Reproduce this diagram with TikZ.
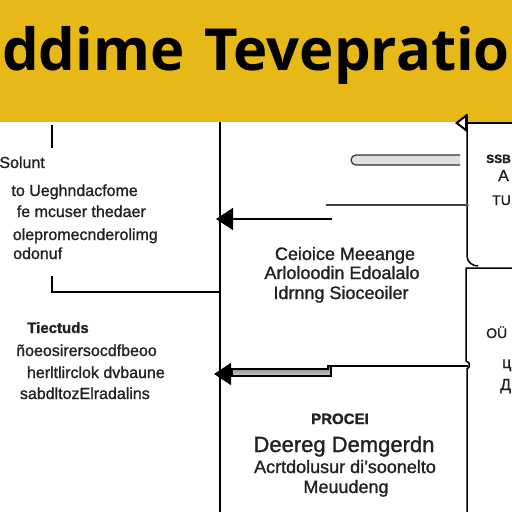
\documentclass[tikz,border=0pt]{standalone}
\usepackage{fontspec}
\setmainfont{Liberation Sans}[FakeBold=1.2]
\newfontfamily\titlefont{Open Sans}
\usetikzlibrary{arrows.meta}
\definecolor{bandyellow}{HTML}{E6B918}
\definecolor{inkgray}{HTML}{222222}
\begin{document}
\begin{tikzpicture}[x=1pt,y=-1pt,
  ln/.style={draw=black,line width=1.5pt},
  thin/.style={draw=black!80,line width=1.2pt},
  bigtip/.style={-{Triangle[length=17pt,width=22pt]}},
  txt/.style={inner sep=0pt,text=inkgray,font=\fontsize{16}{16}\selectfont},
  mtxt/.style={inner sep=0pt,text=inkgray,font=\fontsize{18}{18}\selectfont},
  ttl/.style={inner sep=0pt,text=black,font=\titlefont\bfseries\fontsize{58}{58}\selectfont}]
\useasboundingbox (0,0) rectangle (512,512);
\clip (0,0) rectangle (512,512);
\fill[white] (0,0) rectangle (512,512);
% title band
\fill[bandyellow] (0,0) rectangle (512,122);
\node[ttl,anchor=base west] (t1) at (2,70) {ddime};
\node[ttl,anchor=base west] (t2) at (204,70) {Tevepratio};
% coordinates
\coordinate (vtop) at (220,122);
\coordinate (vbot) at (220,512);
\coordinate (b1a) at (52,125);
\coordinate (b1b) at (52,148);
\coordinate (b2a) at (52,276);
\coordinate (b2b) at (52,292);
\coordinate (b2c) at (220,292);
\coordinate (a1s) at (332,219);
\coordinate (a1e) at (216,219);
\coordinate (l1s) at (326,205);
\coordinate (l1e) at (467,205);
\coordinate (a0s) at (512,123);
\coordinate (a0e) at (455,123);
% main vertical
\draw[ln] (vtop) -- (vbot);
% left brackets
\draw[ln] (b1a) -- (b1b);
\draw[ln] (b2a) -- (b2b) -- (b2c);
% right upper box
\draw[ln] (467,114) -- (467,256) to[out=-90,in=180] (478,266);
\draw[ln] (512,268) -- (466,268) -- (466,361) -- (469,363) -- (469,367) -- (467,369) -- (467,512);
% top right arrow
\draw[line width=2pt,-{Triangle[open,length=12pt,width=18pt,fill=white,line width=2pt]}] (a0s) -- (a0e);
% capsule
\draw[thin,fill=black!12] (460,155) -- (356,155) arc[start angle=-90,end angle=-270,radius=5] -- (460,165);
% thin line
\draw[thin,draw=black!75] (l1s) -- (l1e);
\fill[black!70] (l1e) circle (1.8);
% arrow 1
\draw[ln,bigtip] (a1s) -- (a1e);
% middle horizontal and arrow 2
\coordinate (a2e) at (214,374);
\draw[ln] (328,366) -- (468,366);
\draw[line width=1.2pt,top color=black!50,bottom color=black!20] (232,369) -- (328,369) -- (328,366) -- (331,366) -- (331,376) -- (232,376) -- cycle;
\draw[ln,bigtip] (232,374) -- (a2e);
% left upper text
\node[txt,anchor=base east] (lu1) at (45,168) {Solunt};
\node[txt,anchor=base east] (lu2) at (138,196) {to Ueghndacfome};
\node[txt,anchor=base east] (lu3) at (146,217) {fe mcuser thedaer};
\node[txt,anchor=base east] (lu4) at (158,240) {olepromecnderolimg};
\node[txt,anchor=base west] (lu5) at (13,259) {odonuf};
% left lower text
\node[txt,anchor=base,font=\bfseries\fontsize{15}{15}\selectfont] (ll1) at (58,333) {Tiectuds};
\node[txt,anchor=base east] (ll2) at (157,356) {ñoeosirersocdfbeoo};
\node[txt,anchor=base east] (ll3) at (165,378) {herltlirclok dvbaune};
\node[txt,anchor=base east] (ll4) at (150,399) {sabdltozElradalins};
% middle upper text
\node[mtxt,anchor=base] (mu1) at (345,260) {Ceioice Meeange};
\node[mtxt,anchor=base] (mu2) at (342,279) {Arloloodin Edoalalo};
\node[mtxt,anchor=base] (mu3) at (341,299) {Idrnng Sioceoiler};
% middle lower text
\node[txt,anchor=base,font=\bfseries\fontsize{15}{15}\selectfont] (ml1) at (340,424) {PROCEI};
\node[txt,anchor=base,font=\fontsize{22}{22}\selectfont] (ml2) at (344,452) {Deereg Demgerdn};
\node[mtxt,anchor=base] (ml3) at (345,473) {Acrtdolusur di'soonelto};
\node[mtxt,anchor=base] (ml4) at (346,493) {Meuudeng};
% right text
\node[txt,anchor=base west,font=\bfseries\fontsize{12}{12}\selectfont] (r1) at (486,163) {SSB};
\node[txt,anchor=base west] (r2) at (498,181) {A};
\node[txt,anchor=base west,font=\fontsize{14}{14}\selectfont] (r3) at (492,205) {TU};
\node[txt,anchor=base west,font=\fontsize{14}{14}\selectfont] (r4) at (486,338) {OÜ};
\node[txt,anchor=base west] (r5) at (502,368) {ц};
\node[txt,anchor=base west] (r6) at (500,390) {Д};
\end{tikzpicture}
\end{document}
